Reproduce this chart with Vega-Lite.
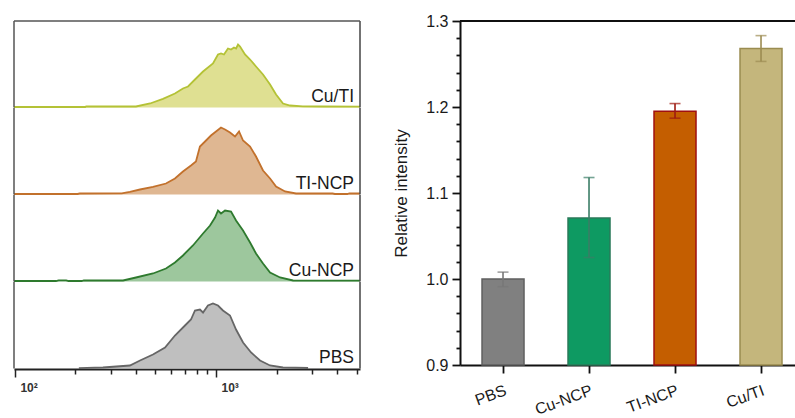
{
  "$schema": "https://vega.github.io/schema/vega-lite/v6.json",
  "padding": {"left": 10, "top": 13, "right": 0, "bottom": 0},
  "autosize": {"type": "pad"},
  "background": "white",
  "config": {
    "view": {"stroke": null},
    "font": "Liberation Sans",
    "axis": {"grid": false, "labelOverlap": false}
  },
  "spacing": 28,
  "hconcat": [
    {
      "data": {
        "values": [
          {"sample": "Cu/TI", "fl": 99, "count": 0.5},
          {"sample": "Cu/TI", "fl": 224, "count": 0.5},
          {"sample": "Cu/TI", "fl": 226, "count": 1.0},
          {"sample": "Cu/TI", "fl": 400, "count": 1.0},
          {"sample": "Cu/TI", "fl": 470, "count": 4},
          {"sample": "Cu/TI", "fl": 545, "count": 8.7},
          {"sample": "Cu/TI", "fl": 625, "count": 14},
          {"sample": "Cu/TI", "fl": 685, "count": 19},
          {"sample": "Cu/TI", "fl": 726, "count": 21},
          {"sample": "Cu/TI", "fl": 786, "count": 28},
          {"sample": "Cu/TI", "fl": 862, "count": 36},
          {"sample": "Cu/TI", "fl": 966, "count": 44},
          {"sample": "Cu/TI", "fl": 1023, "count": 53},
          {"sample": "Cu/TI", "fl": 1059, "count": 54},
          {"sample": "Cu/TI", "fl": 1096, "count": 53},
          {"sample": "Cu/TI", "fl": 1147, "count": 59},
          {"sample": "Cu/TI", "fl": 1188, "count": 58},
          {"sample": "Cu/TI", "fl": 1229, "count": 60},
          {"sample": "Cu/TI", "fl": 1258, "count": 59},
          {"sample": "Cu/TI", "fl": 1287, "count": 63},
          {"sample": "Cu/TI", "fl": 1317, "count": 61},
          {"sample": "Cu/TI", "fl": 1394, "count": 53},
          {"sample": "Cu/TI", "fl": 1477, "count": 48},
          {"sample": "Cu/TI", "fl": 1581, "count": 41},
          {"sample": "Cu/TI", "fl": 1713, "count": 33},
          {"sample": "Cu/TI", "fl": 1857, "count": 23},
          {"sample": "Cu/TI", "fl": 1989, "count": 13},
          {"sample": "Cu/TI", "fl": 2154, "count": 4},
          {"sample": "Cu/TI", "fl": 2335, "count": 2},
          {"sample": "Cu/TI", "fl": 2700, "count": 1.2},
          {"sample": "Cu/TI", "fl": 3400, "count": 1.0},
          {"sample": "Cu/TI", "fl": 5200, "count": 0.8},
          {"sample": "TI-NCP", "fl": 99, "count": 0.5},
          {"sample": "TI-NCP", "fl": 205, "count": 0.5},
          {"sample": "TI-NCP", "fl": 210, "count": 1.0},
          {"sample": "TI-NCP", "fl": 340, "count": 1.2},
          {"sample": "TI-NCP", "fl": 373, "count": 2.7},
          {"sample": "TI-NCP", "fl": 419, "count": 5},
          {"sample": "TI-NCP", "fl": 486, "count": 7.7},
          {"sample": "TI-NCP", "fl": 564, "count": 11},
          {"sample": "TI-NCP", "fl": 625, "count": 16},
          {"sample": "TI-NCP", "fl": 685, "count": 23},
          {"sample": "TI-NCP", "fl": 751, "count": 29},
          {"sample": "TI-NCP", "fl": 795, "count": 33},
          {"sample": "TI-NCP", "fl": 832, "count": 48},
          {"sample": "TI-NCP", "fl": 882, "count": 53},
          {"sample": "TI-NCP", "fl": 944, "count": 59},
          {"sample": "TI-NCP", "fl": 1000, "count": 63},
          {"sample": "TI-NCP", "fl": 1059, "count": 67},
          {"sample": "TI-NCP", "fl": 1109, "count": 65},
          {"sample": "TI-NCP", "fl": 1174, "count": 62},
          {"sample": "TI-NCP", "fl": 1243, "count": 58},
          {"sample": "TI-NCP", "fl": 1302, "count": 63},
          {"sample": "TI-NCP", "fl": 1363, "count": 54},
          {"sample": "TI-NCP", "fl": 1477, "count": 48},
          {"sample": "TI-NCP", "fl": 1581, "count": 38},
          {"sample": "TI-NCP", "fl": 1713, "count": 24},
          {"sample": "TI-NCP", "fl": 1857, "count": 16},
          {"sample": "TI-NCP", "fl": 1989, "count": 8},
          {"sample": "TI-NCP", "fl": 2205, "count": 3},
          {"sample": "TI-NCP", "fl": 2500, "count": 1},
          {"sample": "TI-NCP", "fl": 3800, "count": 1},
          {"sample": "TI-NCP", "fl": 3900, "count": 0.5},
          {"sample": "TI-NCP", "fl": 4500, "count": 0.5},
          {"sample": "TI-NCP", "fl": 4600, "count": 1},
          {"sample": "TI-NCP", "fl": 5200, "count": 1},
          {"sample": "Cu-NCP", "fl": 99, "count": 0.5},
          {"sample": "Cu-NCP", "fl": 160, "count": 0.5},
          {"sample": "Cu-NCP", "fl": 165, "count": 1.2},
          {"sample": "Cu-NCP", "fl": 180, "count": 1.2},
          {"sample": "Cu-NCP", "fl": 185, "count": 0.5},
          {"sample": "Cu-NCP", "fl": 215, "count": 0.5},
          {"sample": "Cu-NCP", "fl": 220, "count": 1},
          {"sample": "Cu-NCP", "fl": 345, "count": 1},
          {"sample": "Cu-NCP", "fl": 400, "count": 4},
          {"sample": "Cu-NCP", "fl": 486, "count": 8},
          {"sample": "Cu-NCP", "fl": 564, "count": 13},
          {"sample": "Cu-NCP", "fl": 625, "count": 19},
          {"sample": "Cu-NCP", "fl": 685, "count": 26},
          {"sample": "Cu-NCP", "fl": 768, "count": 36},
          {"sample": "Cu-NCP", "fl": 862, "count": 48},
          {"sample": "Cu-NCP", "fl": 934, "count": 56},
          {"sample": "Cu-NCP", "fl": 989, "count": 64},
          {"sample": "Cu-NCP", "fl": 1023, "count": 71},
          {"sample": "Cu-NCP", "fl": 1059, "count": 68},
          {"sample": "Cu-NCP", "fl": 1109, "count": 71},
          {"sample": "Cu-NCP", "fl": 1188, "count": 70},
          {"sample": "Cu-NCP", "fl": 1258, "count": 61},
          {"sample": "Cu-NCP", "fl": 1363, "count": 51},
          {"sample": "Cu-NCP", "fl": 1477, "count": 39},
          {"sample": "Cu-NCP", "fl": 1581, "count": 28},
          {"sample": "Cu-NCP", "fl": 1713, "count": 18},
          {"sample": "Cu-NCP", "fl": 1857, "count": 9},
          {"sample": "Cu-NCP", "fl": 2082, "count": 4},
          {"sample": "Cu-NCP", "fl": 2416, "count": 1},
          {"sample": "Cu-NCP", "fl": 5200, "count": 0.8},
          {"sample": "PBS", "fl": 208, "count": 0.3},
          {"sample": "PBS", "fl": 274, "count": 1},
          {"sample": "PBS", "fl": 373, "count": 3},
          {"sample": "PBS", "fl": 419, "count": 8},
          {"sample": "PBS", "fl": 486, "count": 14},
          {"sample": "PBS", "fl": 558, "count": 21},
          {"sample": "PBS", "fl": 625, "count": 33},
          {"sample": "PBS", "fl": 701, "count": 43},
          {"sample": "PBS", "fl": 751, "count": 49},
          {"sample": "PBS", "fl": 786, "count": 58},
          {"sample": "PBS", "fl": 832, "count": 59},
          {"sample": "PBS", "fl": 862, "count": 56},
          {"sample": "PBS", "fl": 912, "count": 63},
          {"sample": "PBS", "fl": 966, "count": 65},
          {"sample": "PBS", "fl": 1023, "count": 63},
          {"sample": "PBS", "fl": 1083, "count": 58},
          {"sample": "PBS", "fl": 1174, "count": 53},
          {"sample": "PBS", "fl": 1258, "count": 39},
          {"sample": "PBS", "fl": 1363, "count": 26},
          {"sample": "PBS", "fl": 1494, "count": 16},
          {"sample": "PBS", "fl": 1656, "count": 8},
          {"sample": "PBS", "fl": 1857, "count": 3},
          {"sample": "PBS", "fl": 2154, "count": 1},
          {"sample": "PBS", "fl": 2870, "count": 0.5},
          {"sample": "Cu/TI", "label": "Cu/TI"},
          {"sample": "TI-NCP", "label": "TI-NCP"},
          {"sample": "Cu-NCP", "label": "Cu-NCP"},
          {"sample": "PBS", "label": "PBS"}
        ]
      },
      "facet": {
        "row": {
          "field": "sample",
          "type": "nominal",
          "sort": ["Cu/TI", "TI-NCP", "Cu-NCP", "PBS"],
          "header": {"title": null, "labels": false}
        }
      },
      "spacing": 0,
      "bounds": "flush",
      "spec": {
        "width": 346,
        "height": 86.5,
        "layer": [
          {
            "transform": [{"filter": {"field": "count", "valid": true}}],
            "mark": {"type": "area", "interpolate": "linear"},
            "encoding": {
              "x": {
                "field": "fl", "type": "quantitative",
                "scale": {"type": "log", "domain": [99, 5200], "nice": false},
                "axis": {
                  "title": null,
                  "values": [100, 200, 300, 400, 500, 600, 700, 800, 900, 1000, 2000, 3000, 4000, 5000],
                  "labelExpr": "datum.value == 100 ? '10²' : (datum.value == 1000 ? '10³' : '')",
                  "tickSize": {"condition": {"test": "datum.value == 100 || datum.value == 1000", "value": 8}, "value": 5},
                  "tickColor": "#222222",
                  "tickWidth": 1.5,
                  "domainColor": "#222222",
                  "domainWidth": 2,
                  "labelFont": "Liberation Sans",
                  "labelFontSize": 12,
                  "labelFontWeight": "bold",
                  "labelColor": "#333333",
                  "labelAlign": "left",
                  "labelBaseline": "top",
                  "labelOffset": 5,
                  "labelPadding": 5,
                  "labelFlush": false,
                  "labelOverlap": false
                }
              },
              "y": {
                "field": "count", "type": "quantitative",
                "scale": {"domain": [0, 86.5], "nice": false},
                "axis": null
              },
              "fill": {
                "field": "sample", "type": "nominal",
                "scale": {"domain": ["Cu/TI", "TI-NCP", "Cu-NCP", "PBS"], "range": ["#dfe092", "#dfb792", "#9dc79d", "#bfbfbf"]},
                "legend": null
              }
            }
          },
          {
            "transform": [{"filter": {"field": "count", "valid": true}}],
            "mark": {"type": "line", "interpolate": "linear", "strokeWidth": 1.8},
            "encoding": {
              "x": {"field": "fl", "type": "quantitative"},
              "y": {"field": "count", "type": "quantitative"},
              "stroke": {
                "field": "sample", "type": "nominal",
                "scale": {"domain": ["Cu/TI", "TI-NCP", "Cu-NCP", "PBS"], "range": ["#b4c236", "#c2712c", "#2e7a2e", "#666666"]},
                "legend": null
              }
            }
          },
          {
            "transform": [{"filter": "isValid(datum.label)"}],
            "mark": {"type": "text", "align": "right", "baseline": "alphabetic", "dx": -6, "dy": -6, "fontSize": 17.5, "font": "Liberation Sans", "fill": "#1a1a1a"},
            "encoding": {
              "x": {"datum": 5200},
              "y": {"datum": 0},
              "text": {"field": "label", "type": "nominal"}
            }
          },
          {
            "transform": [{"filter": "isValid(datum.label)"}],
            "mark": {"type": "rule", "color": "#555555", "strokeWidth": 1.5},
            "encoding": {"x": {"datum": 99}}
          },
          {
            "transform": [{"filter": "isValid(datum.label)"}],
            "mark": {"type": "rule", "color": "#444444", "strokeWidth": 1.5},
            "encoding": {"x": {"datum": 5200}}
          },
          {
            "transform": [{"filter": "datum.label == 'Cu/TI'"}],
            "mark": {"type": "rule", "color": "#555555", "strokeWidth": 1.5},
            "encoding": {"y": {"datum": 86.5}}
          }
        ]
      }
    },
    {
      "width": 335,
      "height": 344,
      "data": {
        "values": [
          {"sample": "PBS", "value": 1.0, "lo": 0.991, "hi": 1.008},
          {"sample": "Cu-NCP", "value": 1.071, "lo": 1.025, "hi": 1.118},
          {"sample": "TI-NCP", "value": 1.195, "lo": 1.187, "hi": 1.204},
          {"sample": "Cu/TI", "value": 1.268, "lo": 1.253, "hi": 1.283}
        ]
      },
      "layer": [
        {
          "mark": {"type": "bar", "strokeWidth": 1.5},
          "encoding": {
            "x": {
              "field": "sample", "type": "nominal",
              "sort": ["PBS", "Cu-NCP", "TI-NCP", "Cu/TI"],
              "scale": {"paddingInner": 0.5116, "paddingOuter": 0.2035, "align": 0.629},
              "axis": {
                "title": null,
                "labelAngle": -20,
                "labelAlign": "right",
                "labelBaseline": "top",
                "labelFont": "Liberation Sans",
                "labelFontSize": 16,
                "labelColor": "#1a1a1a",
                "labelPadding": 9,
                "tickSize": 8,
                "tickWidth": 1.8,
                "tickColor": "#111111",
                "domainColor": "#111111",
                "domainWidth": 2
              }
            },
            "y": {
              "field": "value", "type": "quantitative",
              "scale": {"domain": [0.9, 1.3], "nice": false, "zero": false},
              "axis": {
                "orient": "left",
                "title": "Relative intensity",
                "titleFont": "Liberation Sans",
                "titleFontSize": 17,
                "titleFontWeight": "normal",
                "titleColor": "#1a1a1a",
                "titlePadding": 15,
                "values": [0.9, 1.0, 1.1, 1.2, 1.3],
                "format": ".1f",
                "tickSize": 8,
                "tickWidth": 1.8,
                "tickColor": "#111111",
                "domainColor": "#111111",
                "domainWidth": 2,
                "labelFont": "Liberation Sans",
                "labelFontSize": 16,
                "labelColor": "#1a1a1a",
                "labelPadding": 4,
                "labelFlush": false,
                "labelOverlap": false
              }
            },
            "y2": {"datum": 0.9},
            "fill": {
              "field": "sample", "type": "nominal",
              "scale": {"domain": ["PBS", "Cu-NCP", "TI-NCP", "Cu/TI"], "range": ["#808080", "#0e9a62", "#c45e00", "#c4b67c"]},
              "legend": null
            },
            "stroke": {
              "field": "sample", "type": "nominal",
              "scale": {"domain": ["PBS", "Cu-NCP", "TI-NCP", "Cu/TI"], "range": ["#5f5f5f", "#2b7a5a", "#a01010", "#9a8c50"]},
              "legend": null
            }
          }
        },
        {
          "mark": {"type": "rule", "strokeWidth": 1.6},
          "encoding": {
            "x": {"field": "sample", "type": "nominal", "sort": ["PBS", "Cu-NCP", "TI-NCP", "Cu/TI"]},
            "y": {"field": "lo", "type": "quantitative", "axis": null},
            "y2": {"field": "hi"},
            "stroke": {
              "field": "sample", "type": "nominal",
              "scale": {"domain": ["PBS", "Cu-NCP", "TI-NCP", "Cu/TI"], "range": ["#777777", "#3b7d66", "#9e1a10", "#9c8c52"]},
              "legend": null
            }
          }
        },
        {
          "mark": {"type": "tick", "size": 11, "thickness": 1.6},
          "encoding": {
            "x": {"field": "sample", "type": "nominal", "sort": ["PBS", "Cu-NCP", "TI-NCP", "Cu/TI"]},
            "y": {"field": "lo", "type": "quantitative", "axis": null},
            "color": {
              "field": "sample", "type": "nominal",
              "scale": {"domain": ["PBS", "Cu-NCP", "TI-NCP", "Cu/TI"], "range": ["#777777", "#3b7d66", "#9e1a10", "#9c8c52"]},
              "legend": null
            }
          }
        },
        {
          "mark": {"type": "tick", "size": 11, "thickness": 1.6},
          "encoding": {
            "x": {"field": "sample", "type": "nominal", "sort": ["PBS", "Cu-NCP", "TI-NCP", "Cu/TI"]},
            "y": {"field": "hi", "type": "quantitative", "axis": null},
            "color": {
              "field": "sample", "type": "nominal",
              "scale": {"domain": ["PBS", "Cu-NCP", "TI-NCP", "Cu/TI"], "range": ["#777777", "#3b7d66", "#9e1a10", "#9c8c52"]},
              "legend": null
            }
          }
        },
        {
          "mark": {"type": "rule", "color": "#111111", "strokeWidth": 1.5},
          "encoding": {
            "y": {
              "datum": 1.3,
              "type": "quantitative",
              "axis": {
                "orient": "left",
                "title": null,
                "values": [0.92, 0.94, 0.96, 0.98, 1.02, 1.04, 1.06, 1.08, 1.12, 1.14, 1.16, 1.18, 1.22, 1.24, 1.26, 1.28],
                "labels": false,
                "domain": false,
                "tickSize": 4,
                "tickWidth": 1.8,
                "tickColor": "#111111"
              }
            }
          }
        }
      ],
      "resolve": {"scale": {"stroke": "independent", "fill": "independent", "color": "independent"}, "axis": {"y": "independent"}}
    }
  ]
}
